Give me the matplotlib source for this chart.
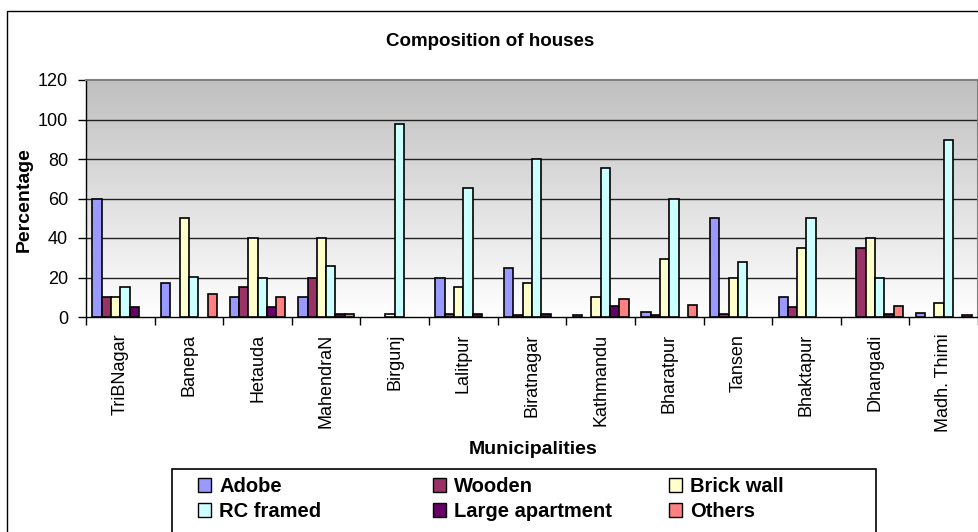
import matplotlib
matplotlib.use("Agg")
import matplotlib.pyplot as plt
from matplotlib.patches import Patch, Rectangle
import numpy as np

plt.rcParams['font.family'] = ['Liberation Sans', 'DejaVu Sans']

towns = ["TriBNagar", "Banepa", "Hetauda", "MahendraN", "Birgunj", "Lalitpur",
         "Biratnagar", "Kathmandu", "Bharatpur", "Tansen", "Bhaktapur",
         "Dhangadi", "Madh. Thimi"]

adobe = [60, 17, 10, 10, 0, 20, 25, 1, 2.5, 50, 10, 0, 2]
wooden = [10, 0, 15, 20, 0, 1.5, 1, 0, 1, 1.5, 5, 35, 0]
brick_wall = [10, 50, 40, 40, 1.5, 15, 17, 10, 29.5, 20, 35, 40, 7]
rc_framed = [15, 20.5, 19.5, 26, 97.5, 65.5, 80, 75.5, 60, 28, 50, 20, 89.5]
large_apt = [5, 0, 5, 1.5, 0, 1.5, 1.5, 5.5, 0, 0, 0, 1.5, 0]
others = [0, 11.5, 10, 1.5, 0, 0, 0, 9, 6, 0, 0, 5.5, 1]

series = ["Adobe", "Wooden", "Brick wall", "RC framed", "Large apartment", "Others"]
values = [adobe, wooden, brick_wall, rc_framed, large_apt, others]
colors = ["#9999FF", "#993366", "#FFFFCC", "#CCFFFF", "#660066", "#FF8080"]

fig = plt.figure(figsize=(9.79, 5.32), dpi=100)
ax = fig.add_axes([86/979, 1 - 317/532, 892/979, 237/532])

# outer chart frame (cut off at right and bottom like the original)
fig.patches.append(Rectangle((7/979, -0.05), 1.1, 1.05 - 11/532,
                             transform=fig.transFigure, fill=False,
                             edgecolor="black", lw=1.0))

x = np.arange(len(towns))
w = 0.1356

# gradient plot background
grad = np.linspace(192, 255, 256)[:, None] / 255.0
grad = np.repeat(grad, 2, axis=1)
ax.imshow(np.dstack([grad, grad, grad]), extent=[-0.5, len(towns) - 0.5, 0, 120],
          aspect="auto", origin="upper", zorder=0)

for j in range(6):
    v = np.array(values[j], dtype=float)
    keep = v > 0
    ax.bar(x[keep] + (j - 2.5) * w, v[keep], width=w, color=colors[j],
           edgecolor="black", linewidth=1.2, zorder=3)

ax.set_xlim(-0.5, len(towns) - 0.5)
ax.set_ylim(0, 120)
ax.set_yticks(range(0, 121, 20))
for yv in range(20, 101, 20):
    ax.axhline(yv, color="#222222", lw=1.0, zorder=1)

ax.set_xticks(x)
ax.set_xticklabels(towns, rotation=90, fontsize=13)
ax.tick_params(axis="x", length=0, pad=12)
ax.set_xticks(np.arange(-0.5, len(towns)), minor=True)
ax.tick_params(axis="x", which="minor", length=6, width=1, direction="out")
ax.tick_params(axis="y", labelsize=13, length=6, width=1, pad=7)

for s in ["top", "right"]:
    ax.spines[s].set_color("#808080")
    ax.spines[s].set_linewidth(1.5)
for s in ["left", "bottom"]:
    ax.spines[s].set_color("black")
    ax.spines[s].set_linewidth(1.0)

fig.text(490/979, 1 - 41/532, "Composition of houses", ha="center", va="center",
         fontsize=13.5, fontweight="bold")
fig.text(24/979, 1 - 200/532, "Percentage", ha="center", va="center",
         rotation=90, fontsize=14, fontweight="bold")
fig.text(533/979, 1 - 450/532, "Municipalities", ha="center", va="center",
         fontsize=14, fontweight="bold")

# legend: frame plus three columns placed like the original
fig.patches.append(Rectangle((172/979, -0.05), 704/979, 0.05 + 1 - 469/532,
                             transform=fig.transFigure, fill=False,
                             edgecolor="black", lw=1.2))
handles = [Patch(facecolor=c, edgecolor="black", lw=1.0) for c in colors]
col_x = [198, 433, 669]
for c in range(3):
    idx = [c, c + 3]
    fig.legend([handles[i] for i in idx], [series[i] for i in idx],
               loc="upper left", bbox_to_anchor=(col_x[c]/979, 1 - 477/532),
               frameon=False, prop={"size": 14.5, "weight": "bold"},
               handlelength=0.65, handleheight=0.65, handletextpad=0.4,
               borderaxespad=0, borderpad=0, labelspacing=0.3)

fig.savefig("out.png", dpi=100)
